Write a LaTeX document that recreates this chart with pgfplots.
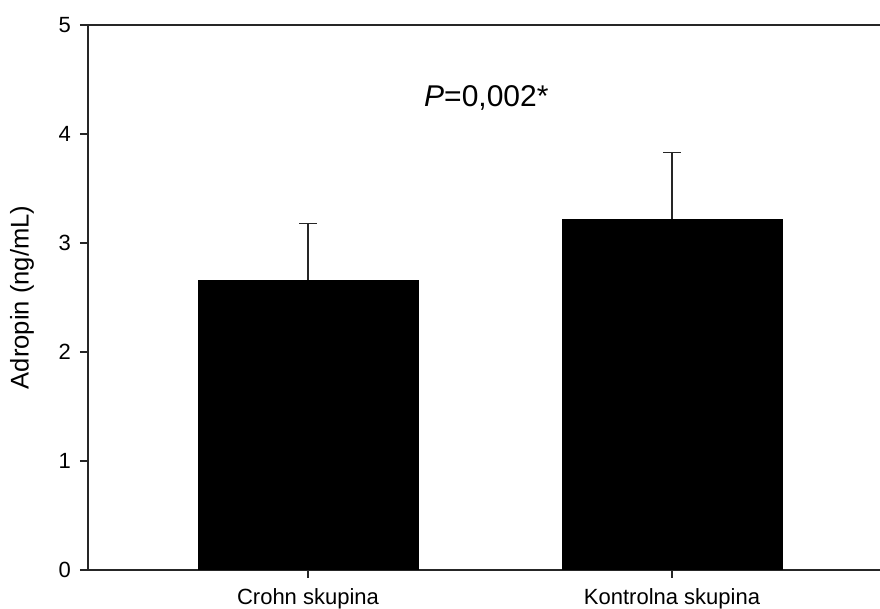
\documentclass[border=0pt]{standalone}
\usepackage{fontspec}
\setmainfont{Liberation Sans}
\usepackage{pgfplots}
\pgfplotsset{compat=1.18}

\begin{document}
\begin{tikzpicture}
\useasboundingbox (-44pt,-19.5pt) rectangle (396pt,285pt);
\begin{axis}[
    scale only axis,
    width=396pt, height=272.5pt,
    xmin=-0.6044, xmax=1.5714,
    ymin=0, ymax=5,
    axis x line*=box, axis y line*=left,
    axis line style={line width=0.9pt, black!85},
    xtick={0,1},
    xticklabels={Crohn skupina, Kontrolna skupina},
    ytick={0,1,2,3,4,5},
    xtick pos=bottom, ytick pos=left,
    tick align=outside,
    major tick length=4pt,
    tick style={line width=0.8pt, black!85},
    /pgf/number format/assume math mode=true,
    yticklabel style={font=\fontsize{11}{12}\selectfont, xshift=-1pt},
    xticklabel style={font=\fontsize{11}{13}\selectfont, anchor=base, yshift=-13.3pt},
    ylabel={Adropin (ng/mL)},
    every axis y label/.style={at={(axis description cs:-0.0833,0.5)}, rotate=90, anchor=center, font=\fontsize{12.8}{14}\selectfont},
]
\addplot[ybar, bar width=110pt, fill=black, draw=black,
    error bars/.cd, y dir=plus, y explicit,
    error bar style={line width=0.8pt, black!85},
    error mark options={rotate=90, mark size=4.5pt, line width=0.8pt, black!85}]
    coordinates {
    (0,2.66) +- (0,0.52)
    (1,3.22) +- (0,0.61)
};
\node[anchor=base, font=\fontsize{15}{18}\selectfont] at (axis cs:0.49,4.25) {\textit{P}=0,002*};
\end{axis}
\end{tikzpicture}
\end{document}
